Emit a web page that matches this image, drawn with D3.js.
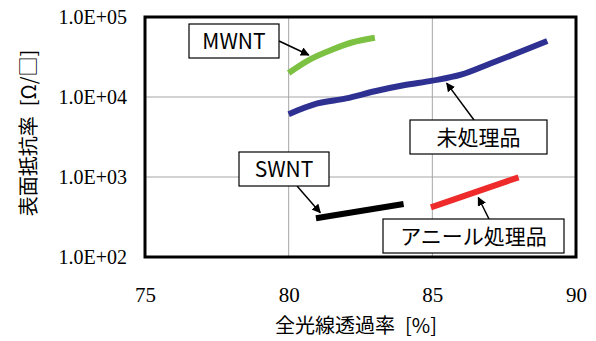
<!DOCTYPE html>
<html>
<head>
<meta charset="utf-8">
<script src="https://cdn.jsdelivr.net/npm/d3@7"></script>
<style>
  body { margin: 0; background: #fff; }
  svg { display: block; }
  .tick text { font-family: "Liberation Serif", serif; }
</style>
</head>
<body>
<div id="container"></div>
<script>
// data
const xTicks = [75, 80, 85, 90]
const yTicks = [1e2, 1e3, 1e4, 1e5]
const yTickLabels = ["1.0E+02", "1.0E+03", "1.0E+04", "1.0E+05"]

const mwnt = [[80, 2.0e4], [80.7, 2.9e4], [81.5, 3.9e4], [82.2, 4.8e4], [83, 5.5e4]]
const untreated = [[80, 6.1e3], [81, 8.3e3], [82, 9.6e3], [83, 1.18e4], [84, 1.4e4], [85, 1.6e4], [86, 1.9e4], [87, 2.6e4], [88, 3.6e4], [89, 5.0e4]]
const swnt = [[80.95, 305], [84, 460]]
const annealed = [[84.95, 418], [88, 990]]

const seriesColors = ["#7dc142", "#2e3192", "#000000", "#ee2a2a"]

const width = 596, height = 341
const margin = {top: 17, right: 20, bottom: 85, left: 145}

const svg = d3.select("#container").append("svg")
    .attr("width", width)
    .attr("height", height)

const x = d3.scaleLinear().domain([75, 90]).range([margin.left, width - margin.right])
const y = d3.scaleLog().domain([1e2, 1e5]).range([height - margin.bottom + 1, margin.top])

// grid
svg.append("g")
    .selectAll("line")
    .data(xTicks.slice(1, -1))
    .enter().append("line")
    .attr("x1", d => x(d)).attr("x2", d => x(d))
    .attr("y1", y(1e2)).attr("y2", y(1e5))
    .attr("stroke", "#a6a6a6").attr("stroke-width", 1)

svg.append("g")
    .selectAll("line")
    .data(yTicks.slice(1, -1))
    .enter().append("line")
    .attr("x1", x(75)).attr("x2", x(90))
    .attr("y1", d => y(d)).attr("y2", d => y(d))
    .attr("stroke", "#a6a6a6").attr("stroke-width", 1)

// axes (labels only)
const xAxis = svg.append("g")
    .attr("transform", `translate(0,${y(1e2)})`)
    .call(d3.axisBottom(x).tickValues(xTicks).tickSize(0).tickPadding(30))
xAxis.select(".domain").remove()
xAxis.selectAll("text").style("font-size", "21px").attr("fill", "#000")

const yAxis = svg.append("g")
    .attr("transform", `translate(${x(75)},0)`)
    .call(d3.axisLeft(y).tickValues(yTicks).tickFormat((d, i) => yTickLabels[i]).tickSize(0).tickPadding(18))
yAxis.select(".domain").remove()
yAxis.selectAll("text").style("font-size", "20px").attr("fill", "#000")

// series
const line = d3.line()
    .x(d => x(d[0]))
    .y(d => y(d[1]))
    .curve(d3.curveMonotoneX)

const allSeries = [mwnt, untreated, swnt, annealed]
svg.append("g")
    .selectAll("path")
    .data(allSeries)
    .enter().append("path")
    .attr("d", line)
    .attr("fill", "none")
    .attr("stroke", (d, i) => seriesColors[i])
    .attr("stroke-width", 6)

// frame
svg.append("rect")
    .attr("x", x(75)).attr("y", y(1e5))
    .attr("width", x(90) - x(75))
    .attr("height", y(1e2) - y(1e5))
    .attr("fill", "none")
    .attr("stroke", "#000")
    .attr("stroke-width", 3)

// arrow marker
svg.append("defs").append("marker")
    .attr("id", "arrow")
    .attr("viewBox", "0 0 10 10")
    .attr("refX", 9).attr("refY", 5)
    .attr("markerWidth", 9).attr("markerHeight", 9)
    .attr("markerUnits", "userSpaceOnUse")
    .attr("orient", "auto")
    .append("path")
    .attr("d", "M0,0 L10,5 L0,10 z")
    .attr("fill", "#000")

// callouts: label, box [x, y, w, h], arrow from -> to in data coords
const callouts = [
    {text: "MWNT", box: [189, 24, 90, 34], from: [279, 41], to: [80.7, 2.9e4]},
    {text: "未処理品", box: [410, 120, 137, 34], from: [474, 120], to: [85.5, 1.72e4]},
    {text: "SWNT", box: [239, 152, 90, 34], from: [297, 186], to: [81.1, 310]},
    {text: "アニール処理品", box: [383, 219, 181, 34], from: [489, 219], to: [86.6, 640]}
]

const cg = svg.append("g")
    .selectAll("g")
    .data(callouts)
    .enter().append("g")

cg.append("line")
    .attr("x1", d => d.from[0]).attr("y1", d => d.from[1])
    .attr("x2", d => x(d.to[0])).attr("y2", d => y(d.to[1]) + (d.from[1] > y(d.to[1]) ? 5 : -5))
    .attr("stroke", "#000").attr("stroke-width", 1.5)
    .attr("marker-end", "url(#arrow)")

cg.append("rect")
    .attr("x", d => d.box[0]).attr("y", d => d.box[1])
    .attr("width", d => d.box[2]).attr("height", d => d.box[3])
    .attr("fill", "#fff").attr("stroke", "#000").attr("stroke-width", 1.2)

cg.append("text")
    .attr("x", d => d.box[0] + d.box[2] / 2)
    .attr("y", d => d.box[1] + d.box[3] / 2 + 8)
    .attr("text-anchor", "middle")
    .style("font-family", "'Noto Sans CJK JP', 'Noto Sans', sans-serif")
    .style("font-size", "21px")
    .text(d => d.text)

// axis titles
svg.append("text")
    .attr("x", 356).attr("y", 333)
    .attr("text-anchor", "middle")
    .style("font-family", "'Noto Sans CJK JP', sans-serif")
    .style("font-size", "20px")
    .text("全光線透過率\u2002[%]")

svg.append("text")
    .attr("transform", "translate(36,133) rotate(-90)")
    .attr("text-anchor", "middle")
    .style("font-family", "'Noto Sans CJK JP', sans-serif")
    .style("font-size", "20px")
    .text("表面抵抗率\u2002[Ω/□]")
</script>
</body>
</html>
